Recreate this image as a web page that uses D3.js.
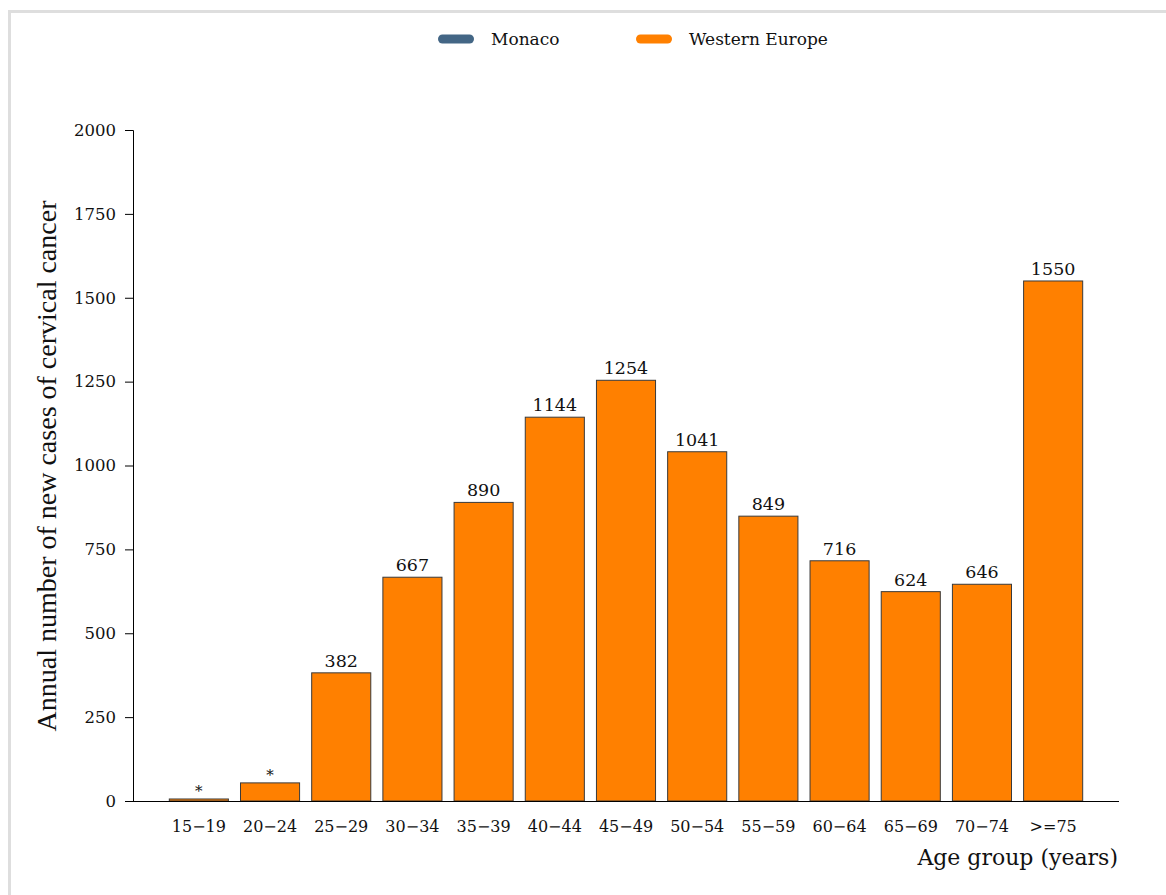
<!DOCTYPE html>
<html><head><meta charset="utf-8">
<script src="https://cdn.jsdelivr.net/npm/d3@7"></script>
<style>
html,body{margin:0;padding:0;background:#fff;overflow:hidden;}
svg{display:block;}
</style></head>
<body>
<svg id="chart" width="1166" height="895"></svg>
<script>
const categories = ["15\u221219","20\u221224","25\u221229","30\u221234","35\u221239","40\u221244","45\u221249","50\u221254","55\u221259","60\u221264","65\u221269","70\u221274",">=75"];
const westernEurope = [6, 54, 382, 667, 890, 1144, 1254, 1041, 849, 716, 624, 646, 1550];
const barLabels = ["*","*","382","667","890","1144","1254","1041","849","716","624","646","1550"];
const yTicks = [0, 250, 500, 750, 1000, 1250, 1500, 1750, 2000];
const legendItems = ["Monaco", "Western Europe"];
const legendColors = ["#436685", "#ff8000"];

const svg = d3.select("#chart");
const serif = "'DejaVu Serif', serif";

// frame
svg.append("rect").attr("x", 9.5).attr("y", 11.5).attr("width", 1200).attr("height", 920)
  .attr("fill", "none").attr("stroke", "#dedede").attr("stroke-width", 3);

const x = d3.scaleBand().domain(categories).range([133, 1119]).paddingInner(0.17).paddingOuter(0.51);
const y = d3.scaleLinear().domain([0, 2000]).range([801, 130]);

// y axis
const yAxis = svg.append("g").attr("transform", "translate(133,0)")
  .call(d3.axisLeft(y).tickValues(yTicks).tickSize(8).tickPadding(9).tickFormat(d3.format("d")));
yAxis.select(".domain").attr("d", "M-8,130.5H0.5V801.5").attr("stroke", "#000");
yAxis.selectAll(".tick line").attr("stroke", "#000");
yAxis.selectAll(".tick text").attr("font-family", serif).attr("font-size", 16.5).attr("fill", "#111");

// bars
svg.append("g").selectAll("rect").data(westernEurope).join("rect")
  .attr("x", (d, i) => x(categories[i]))
  .attr("y", d => y(d))
  .attr("width", x.bandwidth())
  .attr("height", d => y(0) - y(d))
  .attr("fill", "#ff8000").attr("stroke", "#3a3a3a").attr("stroke-width", 1);

// x axis
const xAxis = svg.append("g").attr("transform", "translate(0,801)")
  .call(d3.axisBottom(x).tickSize(0).tickPadding(20));
xAxis.select(".domain").attr("d", "M133,0.5H1119").attr("stroke", "#000");
xAxis.selectAll(".tick text").attr("font-family", serif).attr("font-size", 16).attr("fill", "#111");

// bar labels
svg.append("g").selectAll("text").data(westernEurope).join("text")
  .attr("x", (d, i) => x(categories[i]) + x.bandwidth() / 2)
  .attr("y", (d, i) => y(d) - (barLabels[i] === "*" ? 3 : 6))
  .attr("text-anchor", "middle")
  .attr("font-family", serif).attr("font-size", (d, i) => barLabels[i] === "*" ? 15 : 17.5)
  .attr("fill", "#111")
  .text((d, i) => barLabels[i]);

// axis titles
svg.append("text").attr("transform", "translate(56,466) rotate(-90)")
  .attr("text-anchor", "middle").attr("font-family", "'Liberation Serif', serif")
  .attr("font-size", 28).attr("fill", "#111")
  .text("Annual number of new cases of cervical cancer");
svg.append("text").attr("x", 1118).attr("y", 865).attr("text-anchor", "end")
  .attr("font-family", serif).attr("font-size", 22).attr("fill", "#111")
  .text("Age group (years)");

// legend
const legX = [438, 636];
const leg = svg.append("g").selectAll("g").data(legendItems).join("g")
  .attr("transform", (d, i) => `translate(${legX[i]},39)`);
leg.append("rect").attr("x", 0).attr("y", -4.5).attr("width", 36).attr("height", 9).attr("rx", 4.5)
  .attr("fill", (d, i) => legendColors[i]);
leg.append("text").attr("x", 53).attr("y", 6).attr("font-family", serif).attr("font-size", 17)
  .attr("fill", "#111").text(d => d);
</script>
</body></html>
